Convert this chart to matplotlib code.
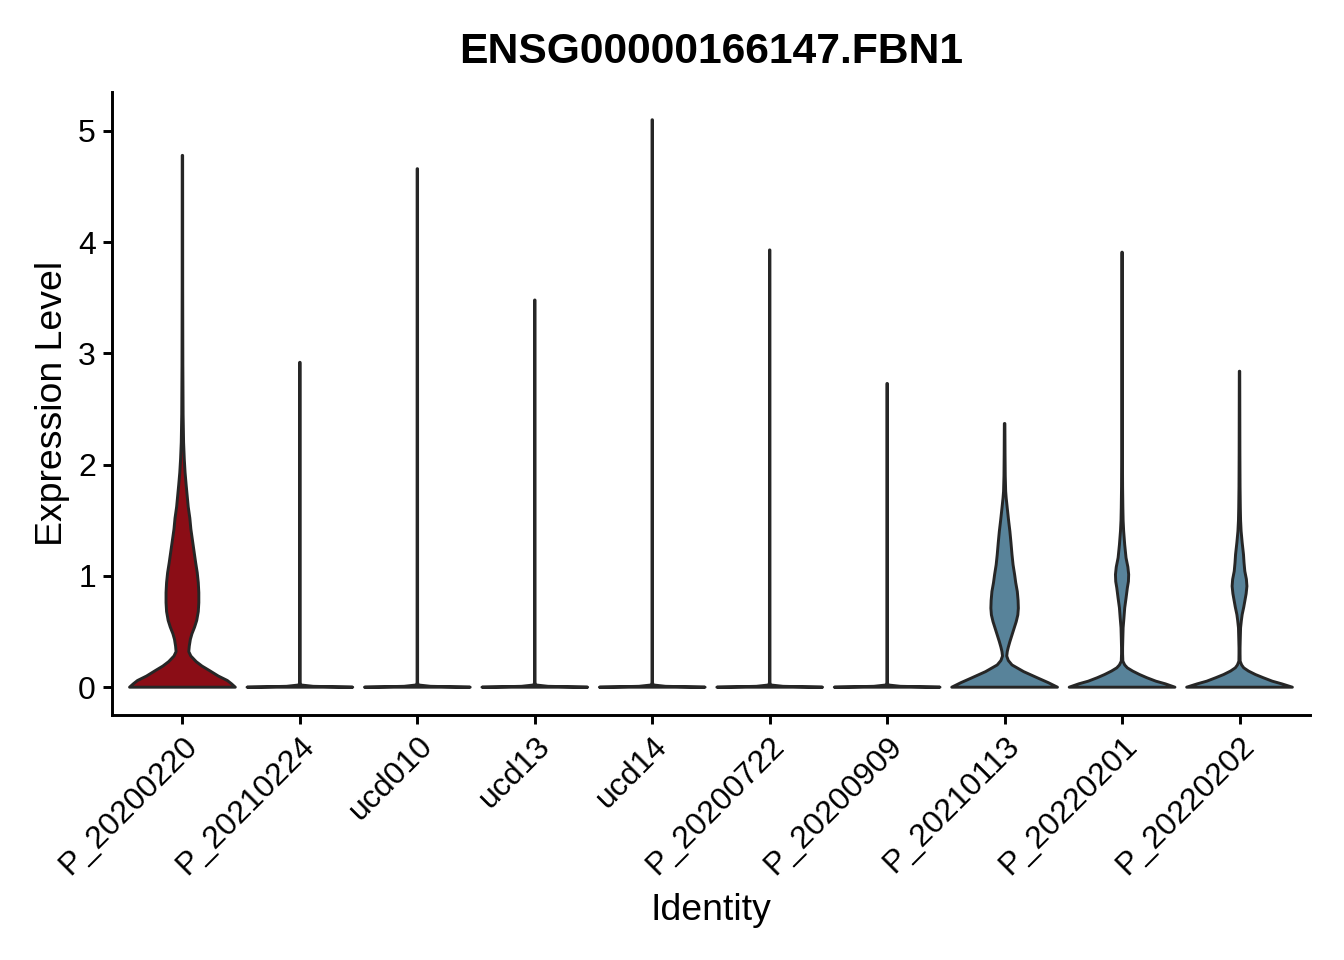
import numpy as np
import matplotlib
matplotlib.use("Agg")
import matplotlib.pyplot as plt

plt.rcParams['font.family'] = ['Liberation Sans', 'DejaVu Sans']

title = "ENSG00000166147.FBN1"
groups = ["P_20200220", "P_20210224", "ucd010", "ucd13", "ucd14",
          "P_20200722", "P_20200909", "P_20210113", "P_20220201", "P_20220202"]
max_expr = [4.78, 2.92, 4.66, 3.48, 5.10, 3.93, 2.73, 2.37, 3.91, 2.84]

# violin profiles: expression level vs relative density width
red_y = [0, 0.03, 0.06, 0.10, 0.15, 0.19, 0.23, 0.28, 0.32, 0.37, 0.43, 0.48, 0.54, 0.60,
         0.68, 0.76, 0.85, 0.94, 1.03, 1.12, 1.22, 1.32, 1.42, 1.52, 1.62, 1.72, 1.82,
         1.93, 2.05, 2.2, 2.45, 2.9, 3.6, 4.78]
red_w = [1.0, 0.93, 0.85, 0.68, 0.51, 0.37, 0.26, 0.16, 0.12, 0.13, 0.15, 0.18, 0.23, 0.27,
         0.30, 0.31, 0.31, 0.30, 0.28, 0.25, 0.22, 0.19, 0.16, 0.14, 0.11, 0.09, 0.07,
         0.05, 0.035, 0.022, 0.013, 0.008, 0.005, 0.004]

flat_y = [0, 0.008, 0.02, 0.04]
flat_w = [1.0, 0.25, 0.02, 0.005]

b8_y = [0, 0.04, 0.08, 0.14, 0.20, 0.24, 0.28, 0.32, 0.36, 0.41, 0.47, 0.53, 0.59, 0.65,
        0.71, 0.78, 0.86, 0.94, 1.01, 1.10, 1.19, 1.30, 1.40, 1.50, 1.61, 1.70, 1.76,
        1.9, 2.1, 2.37]
b8_w = [1.0, 0.83, 0.64, 0.36, 0.14, 0.07, 0.04, 0.05, 0.07, 0.10, 0.14, 0.18, 0.22, 0.25,
        0.26, 0.255, 0.24, 0.21, 0.19, 0.16, 0.14, 0.12, 0.10, 0.075, 0.05, 0.03, 0.02,
        0.012, 0.008, 0.005]

b9_y = [0, 0.03, 0.054, 0.085, 0.114, 0.145, 0.174, 0.20, 0.234, 0.30, 0.354, 0.45, 0.534,
        0.62, 0.713, 0.80, 0.893, 0.95, 1.013, 1.08, 1.163, 1.28, 1.403, 1.5, 1.613, 1.8,
        2.0, 2.5, 3.91]
b9_w = [1.0, 0.82, 0.64, 0.47, 0.33, 0.20, 0.10, 0.05, 0.015, 0.01, 0.01, 0.015, 0.02,
        0.035, 0.05, 0.075, 0.10, 0.12, 0.125, 0.11, 0.075, 0.05, 0.03, 0.02, 0.015, 0.01,
        0.008, 0.005, 0.004]

b10_y = [0, 0.03, 0.054, 0.085, 0.114, 0.145, 0.174, 0.20, 0.234, 0.30, 0.354, 0.45, 0.534,
         0.60, 0.653, 0.72, 0.773, 0.84, 0.908, 0.97, 1.043, 1.12, 1.193, 1.3, 1.403, 1.5,
         1.613, 1.8, 2.1, 2.84]
b10_w = [1.0, 0.80, 0.62, 0.45, 0.30, 0.17, 0.08, 0.04, 0.012, 0.01, 0.01, 0.015, 0.02,
         0.035, 0.05, 0.08, 0.10, 0.125, 0.14, 0.13, 0.10, 0.085, 0.075, 0.05, 0.03, 0.02,
         0.015, 0.01, 0.007, 0.004]

red = "#8B0D16"
blue = "#58839A"
outline = "#262626"
fills = [red, "#7f7f7f", "#7f7f7f", "#7f7f7f", "#7f7f7f", "#7f7f7f", "#7f7f7f",
         blue, blue, blue]

profiles = {0: (red_y, red_w), 7: (b8_y, b8_w), 8: (b9_y, b9_w), 9: (b10_y, b10_w)}

fig = plt.figure(figsize=(7, 5), dpi=192)
ax = fig.add_axes([0.0833, 0.2552, 0.8914, 0.649])

half = 0.45
for i, g in enumerate(groups):
    if i in profiles:
        ys, ws = profiles[i]
    else:
        ys = flat_y + [max_expr[i]]
        ws = flat_w + [0.004]
    ys = np.array(ys)
    ws = np.array(ws) * half
    xc = i + 1
    px = np.concatenate([xc + ws, (xc - ws)[::-1]])
    py = np.concatenate([ys, ys[::-1]])
    ax.fill(px, py, facecolor=fills[i], edgecolor=outline, linewidth=1.1,
            joinstyle='round', zorder=2)

ax.set_xlim(0.4, 10.6)
ax.set_ylim(-0.25, 5.35)
ax.set_xticks(range(1, len(groups) + 1))
ax.set_xticklabels(groups, rotation=45, ha='right', va='top', rotation_mode='anchor')
ax.set_yticks([0, 1, 2, 3, 4, 5])
ax.tick_params(axis='both', labelsize=12, length=3.5, width=1.1, color='black',
               labelcolor='black', pad=2.5)
for s in ['top', 'right']:
    ax.spines[s].set_visible(False)
for s in ['left', 'bottom']:
    ax.spines[s].set_linewidth(1.1)

ax.set_xlabel("Identity", fontsize=14, labelpad=4.5)
ax.set_ylabel("Expression Level", fontsize=14, labelpad=3)
ax.set_title(title, fontsize=16, fontweight='bold', pad=11)

fig.savefig("out.png", dpi=192)
